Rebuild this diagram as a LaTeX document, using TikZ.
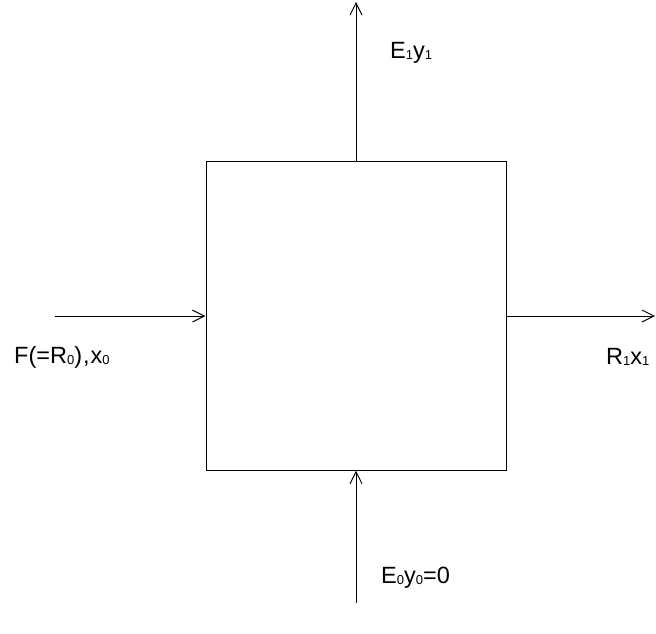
\documentclass[tikz,border=0pt]{standalone}
\usepackage{fontspec}
\setmainfont{Liberation Sans}
\usetikzlibrary{arrows.meta}
\newcommand\subs[1]{\raisebox{-1pt}{\fontsize{13}{13}\selectfont #1}}
\tikzset{
  flow/.style={line width=1pt,-{Straight Barb[length=12pt,width=12pt,line width=1pt]}},
  lbl/.style={anchor=west,inner sep=0pt,font=\fontsize{23.5}{23.5}\selectfont},
  unit/.style={draw,line width=1pt,minimum width=300pt,minimum height=309pt,inner sep=0pt}
}
\begin{document}
\begin{tikzpicture}[x=1pt,y=-1pt]
\useasboundingbox (0,0) rectangle (656,633);
\node[unit] (box) at (356,315.5) {};
\coordinate (topend) at (356,2);
\coordinate (botstart) at (356,603);
\coordinate (leftstart) at (55,316);
\coordinate (rightend) at (655,316);
\draw[flow] (box.north) -- (topend);
\draw[flow] (botstart) -- (box.south);
\draw[flow] (leftstart) -- (leftstart -| box.west);
\draw[flow] (rightend -| box.east) -- (rightend);
\node[lbl] (e1) at (390,53) {E\subs{1}y\subs{1}};
\node[lbl] (f) at (14,357) {F(=R\subs{0})\kern1pt,\kern1pt x\subs{0}};
\node[lbl] (r1) at (606,357) {R\subs{1}x\subs{1}};
\node[lbl] (e0) at (381,578) {E\subs{0}y\subs{0}=0};
\end{tikzpicture}
\end{document}
